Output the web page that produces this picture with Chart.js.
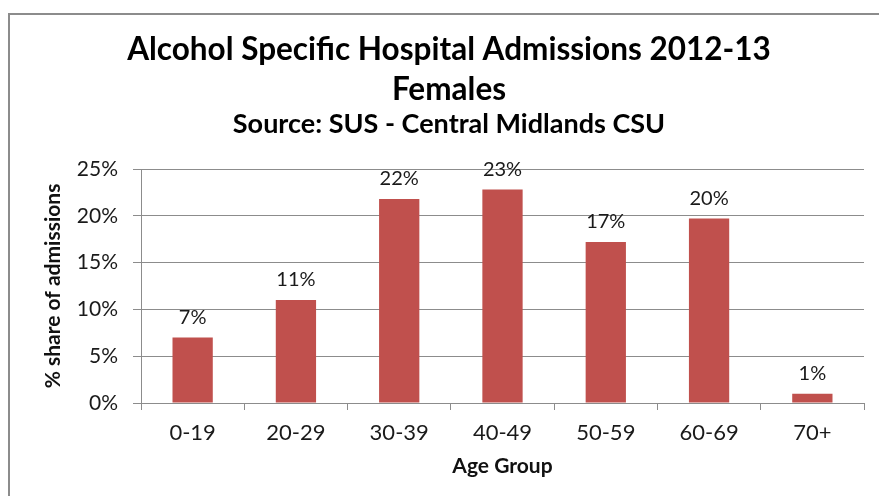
<!DOCTYPE html>
<html>
<head>
<meta charset="utf-8">
<script src="https://cdn.jsdelivr.net/npm/chart.js@4.4.1/dist/chart.umd.min.js"></script>
<style>
  html, body { margin: 0; padding: 0; background: #fff; overflow: hidden; }
  /* le cadre Excel dépasse à droite : canvas un peu plus large que la fenêtre */
  #wrap { position: relative; width: 900px; height: 496px; }
</style>
</head>
<body>
<div id="wrap"><canvas id="chart"></canvas></div>
<script>
// Données
const ageGroups = ['0-19', '20-29', '30-39', '40-49', '50-59', '60-69', '70+'];
const shareOfAdmissions = [7.0, 11.0, 21.8, 22.8, 17.2, 19.7, 1.0];
const yTicks = [0, 5, 10, 15, 20, 25];

const FONT = 'Lato';
const GREY = '#8c8c8c';

// cadre gris autour du graphique
const chartFrame = {
    id: 'chartFrame',
    beforeDraw(chart) {
        const ctx = chart.ctx;
        ctx.save();
        ctx.fillStyle = '#fff';
        ctx.fillRect(0, 0, chart.width, chart.height);
        ctx.strokeStyle = GREY;
        ctx.lineWidth = 2;
        ctx.strokeRect(9, 14, chart.width + 40, chart.height + 40);
        ctx.restore();
    }
};

// étiquettes au-dessus des barres
const barLabels = {
    id: 'barLabels',
    afterDatasetsDraw(chart) {
        const ctx = chart.ctx;
        const meta = chart.getDatasetMeta(0);
        ctx.save();
        ctx.font = '20px ' + FONT;
        ctx.fillStyle = '#1a1a1a';
        ctx.textAlign = 'center';
        ctx.textBaseline = 'middle';
        meta.data.forEach((bar, i) => {
            ctx.fillText(Math.round(shareOfAdmissions[i]) + '%', bar.x, bar.y - 20);
        });
        ctx.restore();
    }
};

new Chart(document.getElementById('chart'), {
    type: 'bar',
    data: {
        labels: ageGroups,
        datasets: [{
            data: shareOfAdmissions,
            backgroundColor: '#c0504d',
            barPercentage: 0.39,
            categoryPercentage: 1.0
        }]
    },
    options: {
        responsive: true, maintainAspectRatio: false, animation: false,
        layout: { padding: { top: 13, right: 36, left: 34, bottom: 0 } },
        scales: {
            x: {
                grid: { drawOnChartArea: false, tickLength: 7, color: GREY, offset: true },
                border: { color: GREY },
                ticks: { font: { family: FONT, size: 22 }, color: '#1a1a1a', padding: 10 },
                title: { display: true, text: 'Age Group', font: { family: FONT, size: 21, weight: 'bold' }, color: '#111', padding: 17 },
                afterFit(s) { s.height = 93; }
            },
            y: {
                min: 0, max: 25,
                afterBuildTicks(s) { s.ticks = yTicks.map(v => ({ value: v })); },
                grid: { color: GREY, tickLength: 8 },
                border: { color: GREY },
                ticks: { font: { family: FONT, size: 21 }, color: '#1a1a1a', padding: 15, callback: v => v + '%' },
                title: { display: true, text: '% share of admissions', font: { family: FONT, size: 21, weight: 'bold' }, color: '#111', padding: 7 },
                afterFit(s) { s.width = 107; }
            }
        },
        plugins: {
            legend: { display: false },
            tooltip: { enabled: false },
            title: {
                display: true,
                text: ['Alcohol Specific Hospital Admissions 2012-13', 'Females'],
                font: { family: FONT, size: 31.5, weight: 'bold', lineHeight: '40px' },
                color: '#000',
                padding: { top: 17, bottom: 0 }
            },
            subtitle: {
                display: true,
                text: 'Source: SUS - Central Midlands CSU',
                font: { family: FONT, size: 27, weight: 'bold', lineHeight: '26px' },
                color: '#000',
                padding: { top: 1, bottom: 32 }
            }
        }
    },
    plugins: [chartFrame, barLabels]
});
</script>
</body>
</html>
